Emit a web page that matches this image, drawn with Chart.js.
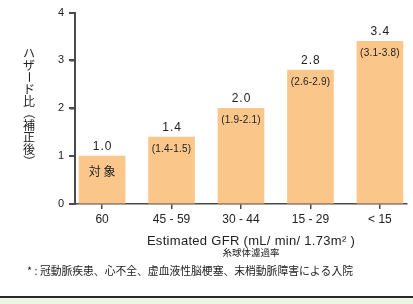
<!DOCTYPE html>
<html>
<head>
<meta charset="utf-8">
<script src="https://cdn.jsdelivr.net/npm/chart.js@4/dist/chart.umd.min.js"></script>
<style>
  html, body { margin: 0; padding: 0; background: #ffffff; }
  #wrap { position: relative; width: 413px; height: 304px; }
  canvas { display: block; }
</style>
</head>
<body>
<div id="wrap"><canvas id="c" width="413" height="304"></canvas></div>
<script>
// ---- data ----
const categories = ['60', '45 - 59', '30 - 44', '15 - 29', '< 15'];
const hazardRatio = [1.0, 1.4, 2.0, 2.8, 3.4];
const innerLabels = ['対 象', '(1.4-1.5)', '(1.9-2.1)', '(2.6-2.9)', '(3.1-3.8)'];
const yTicks = [0, 1, 2, 3, 4];
const yTitleChars = ['ハ', 'ザ', 'ー', 'ド', '比', '（', '補', '正', '後', '）'];
const xTitle = 'Estimated GFR (mL/ min/ 1.73m² )';
const xSubTitle = '糸球体濾過率';
const footnote = '* : 冠動脈疾患、心不全、虚血液性脳梗塞、末梢動脈障害による入院';

const LATIN = '"Liberation Sans", Arial, sans-serif';
const CJK = '"Noto Sans CJK JP", "Noto Sans", sans-serif';
const TEXT = '#222222';
const AXIS = '#4a4a4a';
const BAR = '#FBC68A';

const extras = {
  id: 'extras',
  beforeDraw(chart) {
    const ctx = chart.ctx;
    ctx.save();
    ctx.fillStyle = '#ffffff';
    ctx.fillRect(0, 0, chart.width, chart.height);
    ctx.restore();
  },
  afterDraw(chart) {
    const ctx = chart.ctx;
    const xs = chart.scales.x, ys = chart.scales.y;
    ctx.save();
    // y axis line and tick marks (positions from the y scale)
    const ax = Math.round(chart.chartArea.left);
    const yTop = Math.round(ys.getPixelForValue(yTicks[yTicks.length - 1]));
    const yBot = Math.round(ys.getPixelForValue(0));
    ctx.fillStyle = AXIS;
    ctx.fillRect(ax - 1, yTop - 1, 2, yBot - yTop + 2);
    yTicks.forEach(t => {
      const py = Math.round(ys.getPixelForValue(t));
      ctx.fillRect(ax - 6, py - 1, 6, 2);
    });
    // value labels + inner labels
    hazardRatio.forEach((v, i) => {
      const px = xs.getPixelForValue(i);
      const top = ys.getPixelForValue(v);
      ctx.fillStyle = TEXT;
      ctx.textAlign = 'center';
      ctx.textBaseline = 'alphabetic';
      ctx.font = '12px ' + LATIN;
      ctx.letterSpacing = '1px';
      ctx.fillText(v.toFixed(1), px + 0.5, top - 6);
      ctx.letterSpacing = '0px';
      if (i === 0) {
        ctx.font = '12px ' + CJK;
        ctx.textBaseline = 'middle';
        ctx.fillText(innerLabels[i], px, top + 15);
      } else {
        ctx.font = '10px "Liberation Sans Narrow", ' + LATIN;
        ctx.letterSpacing = '0.2px';
        ctx.textBaseline = 'middle';
        ctx.fillText(innerLabels[i], px, top + 12);
        ctx.letterSpacing = '0px';
      }
    });
    // vertical y title
    ctx.font = '12px ' + CJK;
    ctx.fillStyle = TEXT;
    ctx.textAlign = 'center';
    ctx.textBaseline = 'middle';
    const cx = 29;
    yTitleChars.forEach((ch, i) => {
      const cy = 53 + i * 12;
      if (ch === 'ー' || ch === '（' || ch === '）') {
        ctx.save();
        ctx.translate(cx, cy);
        ctx.rotate(Math.PI / 2);
        ctx.fillText(ch, 0, 0);
        ctx.restore();
      } else {
        ctx.fillText(ch, cx, cy);
      }
    });
    // x titles
    ctx.textAlign = 'center';
    ctx.textBaseline = 'alphabetic';
    ctx.font = '13px ' + LATIN;
    ctx.letterSpacing = '0.3px';
    ctx.fillText(xTitle, 251, 245);
    ctx.letterSpacing = '0px';
    ctx.font = '9.5px ' + CJK;
    ctx.textBaseline = 'middle';
    ctx.fillText(xSubTitle, 251, 252);
    // footnote
    ctx.textAlign = 'left';
    ctx.font = '10.8px ' + CJK;
    ctx.fillText(footnote, 27, 271);
    // bottom band
    ctx.fillStyle = '#EEF5E6';
    ctx.fillRect(0, 298, chart.width, 6);
    ctx.fillStyle = '#2a2a2a';
    ctx.fillRect(0, 296, chart.width, 2);
    ctx.restore();
  }
};

new Chart(document.getElementById('c'), {
  type: 'bar',
  data: {
    datasets: [{
      data: hazardRatio.map((v, i) => ({ x: i, y: v })),
      backgroundColor: BAR,
      borderWidth: 0,
      barThickness: 46
    }]
  },
  options: {
    responsive: false,
    animation: false,
    devicePixelRatio: 1,
    layout: { padding: { top: 11, right: 6, left: 0, bottom: 0 } },
    plugins: { legend: { display: false }, tooltip: { enabled: false } },
    scales: {
      x: {
        type: 'linear',
        offset: false,
        min: -0.39,
        max: 4.39,
        afterBuildTicks: (s) => { s.ticks = categories.map((_, i) => ({ value: i })); },
        afterFit: (s) => { s.height = 100; },
        ticks: {
          autoSkip: false,
          maxRotation: 0,
          padding: 3,
          color: TEXT,
          font: { size: 12, family: LATIN },
          callback: (v) => categories[v] !== undefined ? categories[v] : ''
        },
        grid: { offset: false, drawOnChartArea: false, drawTicks: true, tickLength: 5, color: AXIS, lineWidth: 1.5 },
        border: { display: true, color: AXIS, width: 1.5 }
      },
      y: {
        min: 0,
        max: 4,
        afterBuildTicks: (s) => { s.ticks = yTicks.map(v => ({ value: v })); },
        afterFit: (s) => { s.width = 75; },
        ticks: {
          padding: 6,
          color: TEXT,
          font: { size: 11, family: LATIN },
          callback: (v) => String(v)
        },
        grid: { drawOnChartArea: false, drawTicks: true, tickLength: 5, color: AXIS, lineWidth: 1.5 },
        border: { display: true, color: AXIS, width: 1.5 }
      }
    }
  },
  plugins: [extras]
});
</script>
</body>
</html>
